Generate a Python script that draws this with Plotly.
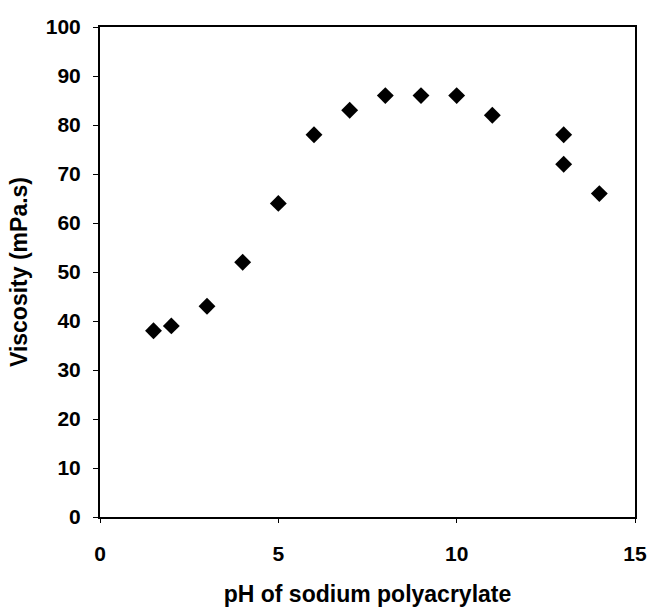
import plotly.graph_objects as go

ph = [1.5, 2, 3, 4, 5, 6, 7, 8, 9, 10, 11, 13, 13, 14]
viscosity = [38, 39, 43, 52, 64, 78, 83, 86, 86, 86, 82, 78, 72, 66]

fig = go.Figure()
fig.add_trace(go.Scatter(
    x=ph, y=viscosity, mode="markers",
    marker=dict(symbol="diamond", size=13, color="black"),
    showlegend=False,
))

fs = 21
font = dict(family="Liberation Sans, Arial, sans-serif", size=fs, color="black", weight="bold")
fig.update_layout(
    width=649, height=610,
    margin=dict(l=100, r=14, t=27, b=93),
    paper_bgcolor="white", plot_bgcolor="white",
    font=font,
)
fig.update_xaxes(
    range=[0, 15], tickvals=[0, 5, 10, 15], showgrid=False, zeroline=False,
    showline=True, linecolor="black", linewidth=2, mirror=True,
    ticks="outside", ticklen=4, tickcolor="black", ticklabelstandoff=13,
    tickfont=dict(size=fs, weight="bold"), automargin=False,
    title=dict(text="pH of sodium polyacrylate", font=dict(size=23, weight="bold"), standoff=22),
)
fig.update_yaxes(
    range=[0, 100], dtick=10, showgrid=False, zeroline=False,
    showline=True, linecolor="black", linewidth=2, mirror=True,
    ticks="outside", ticklen=5, tickcolor="black", ticklabelstandoff=8,
    tickfont=dict(size=fs, weight="bold"), automargin=False,
    title=dict(text="Viscosity (mPa.s)", font=dict(size=23, weight="bold"), standoff=12),
)
fig.write_html("out.html")
